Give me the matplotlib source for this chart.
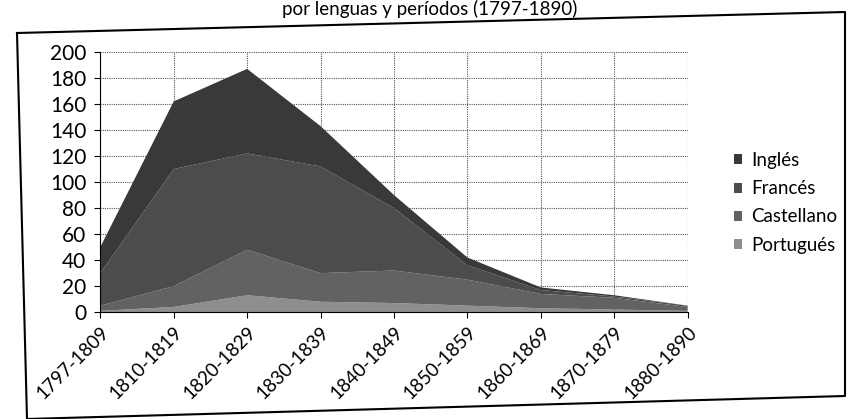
import matplotlib.pyplot as plt
import numpy as np

periodos = ['1797-1809', '1810-1819', '1820-1829', '1830-1839', '1840-1849',
            '1850-1859', '1860-1869', '1870-1879', '1880-1890']
portugues = [1, 4, 13, 8, 7, 5, 3, 2, 1]
castellano = [4, 16, 35, 22, 25, 20, 11, 9, 3]
frances = [25, 90, 74, 82, 48, 11, 3, 1, 1]
ingles = [20, 52, 65, 31, 10, 6, 2, 1, 0]

plt.rcParams['font.family'] = ['Lato', 'DejaVu Sans']

fig = plt.figure(figsize=(8.5, 4.19), dpi=100)
ax = fig.add_axes([0.118, 0.255, 0.691, 0.621])

x = np.arange(len(periodos))
ax.stackplot(x, portugues, castellano, frances, ingles,
             colors=['#8e8e8e', '#626262', '#4c4c4c', '#393939'],
             labels=['Portugués', 'Castellano', 'Francés', 'Inglés'],
             zorder=2)

ax.set_xlim(0, len(periodos) - 1)
ax.set_ylim(0, 200)
ax.set_yticks(range(0, 201, 20))
ax.set_xticks(x)
ax.set_xticklabels(periodos, rotation=45, ha='right', va='top',
                   rotation_mode='anchor', fontsize=13.5)
ax.tick_params(axis='y', labelsize=15, length=4, pad=6)
ax.tick_params(axis='x', length=4, pad=4)
ax.grid(True, color='#555555', linestyle=(0, (1, 1)), linewidth=0.8, zorder=0)
ax.set_axisbelow(True)
for s in ['top', 'right']:
    ax.spines[s].set_visible(False)

h, l = ax.get_legend_handles_labels()
leg = ax.legend(h[::-1], l[::-1], loc='center left', bbox_to_anchor=(1.05, 0.42),
                frameon=False, fontsize=13.5, handlelength=0.45, handleheight=0.45,
                handletextpad=0.45, labelspacing=0.6)

# titulo (cortado arriba en el original)
fig.text(0.505, 0.999, 'por lenguas y períodos (1797-1890)', ha='center',
         va='top', fontsize=13.5)

# marco del grafico (escaneado, un poco inclinado)
W, H = 850, 419
px = [17, 845, 845, 27, 17]
py = [33, 12, 396, 419, 33]
fig.add_artist(plt.Line2D([p / W for p in px], [1 - p / H for p in py],
                          color='black', linewidth=1.5, transform=fig.transFigure))

fig.savefig('out.png', dpi=100)
